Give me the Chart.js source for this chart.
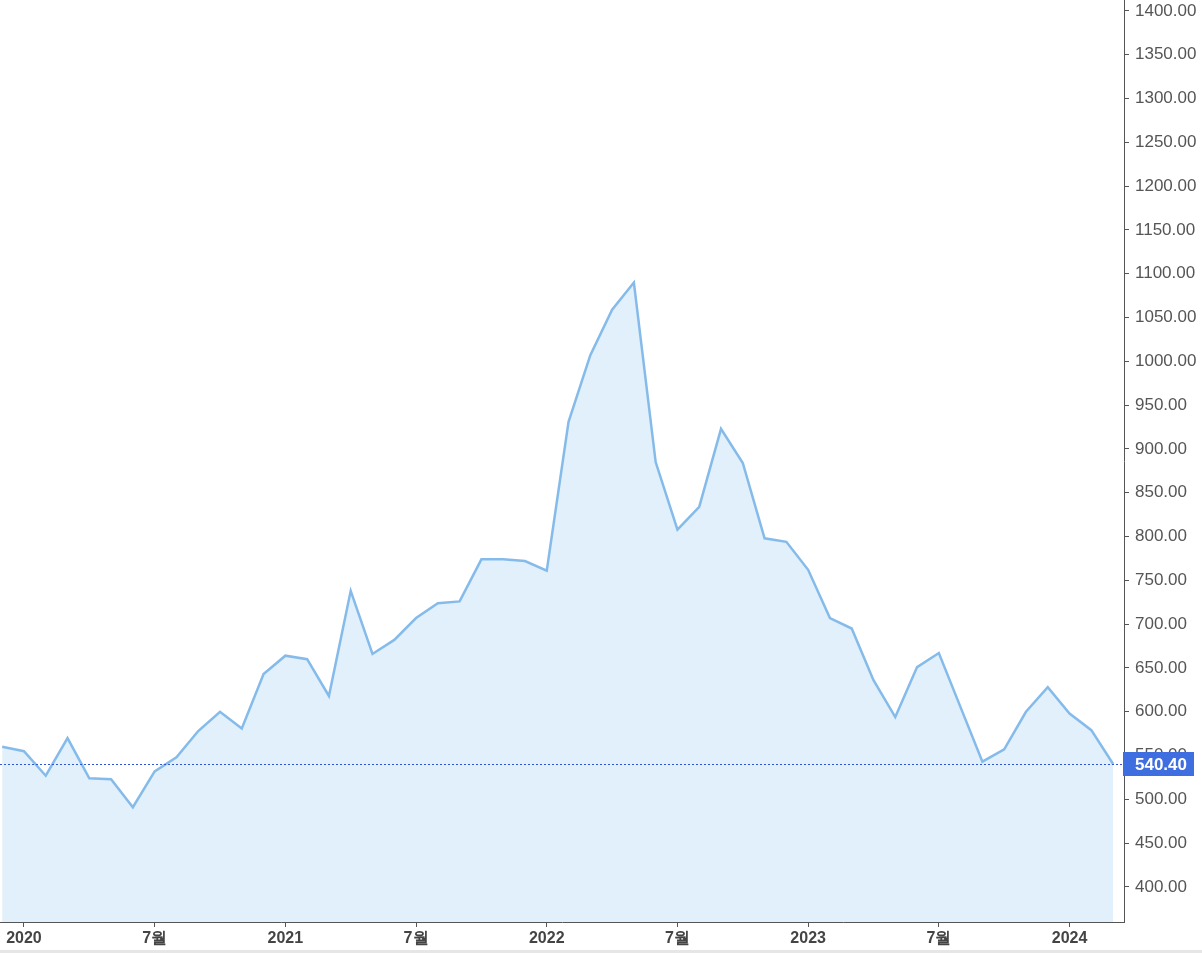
<!DOCTYPE html>
<html>
<head>
<meta charset="utf-8">
<script src="https://cdn.jsdelivr.net/npm/chart.js@4"></script>
<style>
  html,body{margin:0;padding:0;background:#fff;}
  #wrap{width:1202px;height:950px;position:relative;}
  #strip{width:1202px;height:3px;background:#e6e6e6;}
</style>
</head>
<body>
<div id="wrap"><canvas id="chart" width="1202" height="950"></canvas></div>
<div id="strip"></div>
<script>
// month index: 0 = Jan 2020
const months=[-1,0,1,2,3,4,5,6,7,8,9,10,11,12,13,14,15,16,17,18,19,20,21,22,23,24,25,26,27,28,29,30,31,32,33,34,35,36,37,38,39,40,41,42,43,44,45,46,47,48,49,50];
const prices=[560,555,527,570,524,523,491,532,548,578,600,581,643,664,660,618,738,666,682,707,724,726,774,774,772,761,931,1007,1059,1090,885,808,834,923,884,798,794,762,707,695,636,594,651,667,605,543,557,600,628,598,579,540.4];
const xTickPos=[0,6,12,18,24,30,36,42,48];
const xTickLabels=['2020','7월','2021','7월','2022','7월','2023','7월','2024'];
const yTicks=[400,450,500,550,600,650,700,750,800,850,900,950,1000,1050,1100,1150,1200,1250,1300,1350,1400];
const lastPrice=prices[prices.length-1];

const lastLine={
  id:'lastLine',
  afterDatasetsDraw(c){
    const {ctx,chartArea:a,scales:{y}}=c;
    const py=Math.round(y.getPixelForValue(lastPrice))+0.5;
    ctx.save();
    ctx.strokeStyle='#2f55d4';ctx.lineWidth=1;ctx.setLineDash([2,2]);
    ctx.beginPath();ctx.moveTo(a.left,py);ctx.lineTo(a.right,py);ctx.stroke();
    ctx.restore();
  },
  afterDraw(c){
    const {ctx,chartArea:a,scales:{y}}=c;
    const py=Math.round(y.getPixelForValue(lastPrice));
    ctx.save();
    ctx.fillStyle='#3f6ee0';
    ctx.fillRect(a.right-1,py-12,71,24);
    ctx.fillStyle='#fff';ctx.font='bold 17px "Liberation Sans", Arial, sans-serif';
    ctx.textBaseline='middle';ctx.textAlign='left';
    ctx.fillText(lastPrice.toFixed(2),a.right+11,py+1);
    ctx.restore();
  }
};

new Chart(document.getElementById('chart'),{
  type:'line',
  data:{datasets:[{
    data:months.map((m,i)=>({x:m,y:prices[i]})),
    borderColor:'#85bbea',backgroundColor:'#e1f0fa',borderWidth:2.5,
    pointRadius:0,fill:'start',tension:0
  }]},
  options:{
    responsive:false,animation:false,
    layout:{padding:0},
    plugins:{legend:{display:false},tooltip:{enabled:false}},
    scales:{
      x:{type:'linear',min:-1.1,max:50.5,
        afterBuildTicks:s=>{s.ticks=xTickPos.map(v=>({value:v}));},
        afterFit:s=>{s.height=28;s.paddingLeft=0;s.paddingRight=0;},
        grid:{drawOnChartArea:false,drawTicks:true,tickLength:5,color:'#555'},
        border:{color:'#555'},
        ticks:{autoSkip:false,maxRotation:0,padding:2,color:'#444',
          font:{family:'"Liberation Sans", Arial, sans-serif',size:16,weight:'bold'},
          callback:(v)=>xTickLabels[xTickPos.indexOf(v)]}
      },
      y:{position:'right',min:360,max:1412.5,
        afterBuildTicks:s=>{s.ticks=yTicks.map(v=>({value:v}));},
        afterFit:s=>{s.width=78;s.paddingTop=0;s.paddingBottom=0;},
        grid:{drawOnChartArea:false,drawTicks:true,tickLength:5,color:'#555'},
        border:{color:'#555'},
        ticks:{padding:6,color:'#555',
          font:{family:'"Liberation Sans", Arial, sans-serif',size:17},
          callback:v=>v.toFixed(2)}
      }
    }
  },
  plugins:[lastLine]
});
</script>
</body>
</html>
